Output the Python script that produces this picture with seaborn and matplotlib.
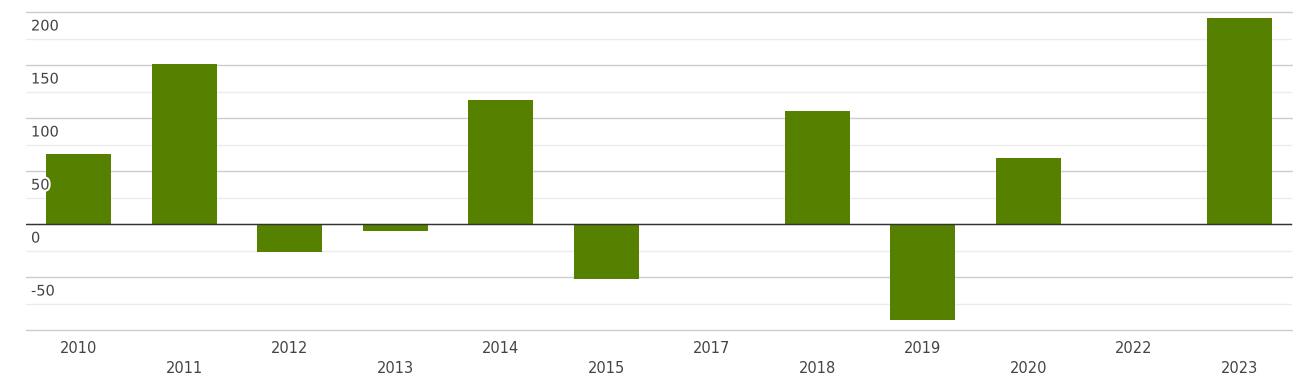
import seaborn as sns
import pandas as pd
import matplotlib.pyplot as plt
import matplotlib.patheffects as pe
from matplotlib.transforms import blended_transform_factory, ScaledTranslation

###

years = ['2010', '2011', '2012', '2013', '2014', '2015', '2017',
         '2018', '2019', '2020', '2022', '2023']
values = [66, 151, -26, -7, 117, -52, 0, 107, -91, 62, 0, 194]
y_ticks = [200, 150, 100, 50, 0, -50]

df = pd.DataFrame({'year': years, 'value': values})

###

sns.set_style('white')
plt.rcParams['font.family'] = ['DejaVu Sans']

fig = plt.figure(figsize=(12.93, 3.84), dpi=100)
ax = fig.add_axes([26 / 1293, 1 - 330 / 384, 1266 / 1293, 318 / 384])

sns.barplot(data=df, x='year', y='value', color='#558000', saturation=1,
            width=0.62, linewidth=0, ax=ax, zorder=3)

ax.set_ylim(-100, 200)
ax.set_xlim(-0.5, len(years) - 0.5)
for s in ax.spines.values():
    s.set_visible(False)

# grid lines
for v in range(-100, 201, 50):
    ax.axhline(v, color='#cccccc', lw=1, zorder=1, clip_on=False)
for v in range(-75, 200, 50):
    ax.axhline(v, color='#ececec', lw=1, zorder=1)
ax.axhline(0, color='#333333', lw=1, zorder=4)

ax.set_yticks([])
ax.set_xlabel('')
ax.set_ylabel('')

# y labels sit inside the plot, just below their grid line
tr = blended_transform_factory(ax.transAxes, ax.transData) + \
    ScaledTranslation(5 / 100, -14 / 100, fig.dpi_scale_trans)
for v in y_ticks:
    ax.text(0, v, str(v), transform=tr, ha='left', va='center',
            fontsize=10.5, color='#444444', zorder=5,
            path_effects=[pe.withStroke(linewidth=3, foreground='white')])

# staggered x labels
ax.tick_params(axis='x', length=0, labelsize=10.5, labelcolor='#444444')
for i, t in enumerate(ax.xaxis.get_major_ticks()):
    t.set_pad(22.5 if i % 2 else 8)

fig.savefig('out.png', dpi=100)
